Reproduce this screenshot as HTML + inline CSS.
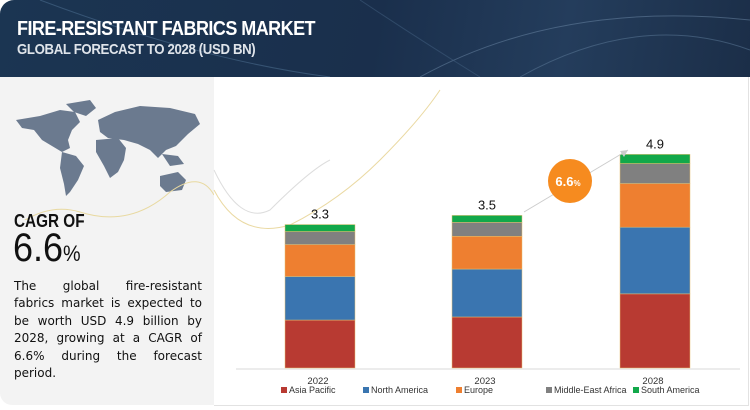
<!DOCTYPE html>
<html><head><meta charset="utf-8"><style>
body{margin:0;width:750px;height:410px;overflow:hidden;background:#fff;font-family:"Liberation Sans",sans-serif;position:relative}
#hdr{position:absolute;left:0;top:0;width:750px;height:77px;border-radius:14px 0 0 0;background:linear-gradient(100deg,#1b3552 0%,#1a2f4c 50%,#243d5c 75%,#1b2e48 100%);overflow:hidden}
#t1{position:absolute;left:17px;top:18px;color:#fff;font-weight:bold;font-size:20px;letter-spacing:-0.6px;transform:scaleX(0.9);transform-origin:left}
#t2{position:absolute;left:17px;top:41px;color:#dfe4ea;font-weight:bold;font-size:15px;letter-spacing:-0.4px;transform:scaleX(0.88);transform-origin:left}
#left{position:absolute;left:0;top:77px;width:214px;height:328px;background:#f3f3f3;border-radius:0 0 0 12px}
#cg{position:absolute;left:14px;top:211px;font-size:18px;font-weight:bold;color:#111;transform:scaleX(0.85);transform-origin:left}
#cv{position:absolute;left:13px;top:226px;font-size:40px;color:#111;transform:scaleX(0.9);transform-origin:left}
#cv span{font-size:22px}
#para{position:absolute;left:14px;top:278px;width:188px;font-family:"DejaVu Sans",sans-serif;font-size:12px;line-height:17.4px;color:#111}
#para div{text-align:justify;text-align-last:justify;white-space:nowrap}
#para div.last{text-align-last:left}
#chartbox{position:absolute;left:214px;top:77px;width:534px;height:328px;border-right:1px solid #e2e2e2;border-bottom:1px solid #e2e2e2}
</style></head><body>
<div id="hdr">
<svg width="750" height="77" style="position:absolute;left:0;top:0">
<path d="M40 0 Q200 60 330 77" stroke="#4a6a8c" stroke-width="1" fill="none" opacity=".6"/>
<path d="M420 77 Q560 0 750 20" stroke="#6d8aa8" stroke-width="1" fill="none" opacity=".5"/>
<path d="M520 77 Q640 10 750 50" stroke="#5f7d9c" stroke-width="1" fill="none" opacity=".5"/>
<path d="M360 0 Q420 40 480 77" stroke="#3d5a7a" stroke-width="1" fill="none" opacity=".6"/>
</svg>
<div id="t1">FIRE-RESISTANT FABRICS MARKET</div>
<div id="t2">GLOBAL FORECAST TO 2028 (USD BN)</div>
</div>
<div id="left"></div>
<svg width="214" height="120" style="position:absolute;left:0;top:100px">
<g fill="#6b7a8f">
<path d="M16 20 L40 16 L60 10 L75 12 L80 22 L72 30 L68 40 L70 48 L62 52 L52 46 L42 40 L34 30 L22 28 Z"/>
<path d="M66 4 L90 0 L96 8 L86 16 L74 12 Z"/>
<path d="M62 52 L76 56 L84 66 L78 80 L70 92 L66 96 L64 84 L60 68 Z"/>
<path d="M98 20 L115 12 L140 6 L170 8 L195 14 L200 24 L188 34 L176 46 L166 50 L158 58 L150 50 L138 44 L124 40 L108 38 L100 32 Z"/>
<path d="M96 40 L118 38 L126 48 L124 60 L118 72 L110 78 L104 66 L96 52 Z"/>
<path d="M160 76 L178 72 L186 80 L182 90 L166 92 L160 86 Z"/>
<path d="M162 54 L178 56 L184 64 L170 66 Z"/>
</g>
<path d="M0 140 Q40 100 80 112 Q130 128 170 92 Q200 70 214 95" stroke="#e8d9a0" fill="none" stroke-width="1"/>
</svg>
<div id="cg">CAGR OF</div>
<div id="cv">6.6<span>%</span></div>
<div id="para"><div>The global fire-resistant</div><div>fabrics market is expected to</div><div>be worth USD 4.9 billion by</div><div>2028, growing at a CAGR of</div><div>6.6% during the forecast</div><div class="last">period.</div></div>
<div id="chartbox"></div>
<svg id="chart" width="750" height="410" style="position:absolute;left:0;top:0">
<path d="M214 190 Q240 240 290 225 Q340 200 380 160 Q420 120 440 90" stroke="#ead9a2" fill="none" stroke-width="1"/>
<path d="M214 170 Q240 225 270 210 Q310 170 330 160" stroke="#ddd" fill="none" stroke-width="1"/>
<line x1="236" y1="369" x2="740" y2="369" stroke="#e6e6e6" stroke-width="1.5"/>
<g id="bars"></g>
</svg>
<script>
const categories=["2022","2023","2028"];
const totals=["3.3","3.5","4.9"];
const seriesNames=["Asia Pacific","North America","Europe","Middle-East Africa","South America"];
const asiaPacific=[1.1,1.17,1.7];
const northAmerica=[1.0,1.1,1.53];
const europe=[0.73,0.75,1.0];
const middleEastAfrica=[0.3,0.32,0.46];
const southAmerica=[0.16,0.16,0.21];
const colors=["#b83a32","#3a75b0","#ee7f30","#808080","#12a84a"];
const series=[asiaPacific,northAmerica,europe,middleEastAfrica,southAmerica];
const NS="http://www.w3.org/2000/svg";
const g=document.getElementById('bars');
const base=368, ppu=43.6;
function yS(v){return base-v*ppu;}
function xS(i){return [285,452,620][i];}
const bw=70;
function mk(t,a){const e=document.createElementNS(NS,t);for(const k in a)e.setAttribute(k,a[k]);g.appendChild(e);return e;}
categories.forEach((c,i)=>{
  let cum=0;
  series.forEach((s,j)=>{
    const r=mk('rect',{x:xS(i),y:yS(cum+s[i]),width:bw,height:s[i]*ppu,fill:colors[j],stroke:'#e8c070','stroke-width':0.5});
    
    
    cum+=s[i];
  });
  const t=mk('text',{x:xS(i)+bw/2,y:yS(cum)-6,'text-anchor':'middle','font-size':13,fill:'#111','font-family':'Liberation Sans'});
  t.textContent=totals[i];
  
  
  const xl=mk('text',{x:xS(i)+bw/2-2,y:384,'text-anchor':'middle','font-size':9.5,fill:'#333','font-family':'Liberation Sans'});
  xl.textContent=c;
  
  
});
const ar=mk('path',{d:'M524 212 L628 150',stroke:'#ccc','stroke-width':1,fill:'none'});


const ah=mk('path',{d:'M628 150 L620 151 L624 157 Z',fill:'#ccc'});


const cc=mk('circle',{cx:570,cy:181,r:22,fill:'#f68b1f'});


const ct=mk('text',{x:568,y:186,'text-anchor':'middle','font-size':13,'font-weight':'bold',fill:'#fff','font-family':'Liberation Sans'});
ct.innerHTML='6.6<tspan font-size="8">%</tspan>';


const lx=[281,363,456,546,633];
seriesNames.forEach((n,j)=>{
  const s=mk('rect',{x:lx[j],y:387,width:6,height:6,fill:colors[j]});
  
  
  const t=mk('text',{x:lx[j]+8,y:393,'font-size':9,fill:'#333','font-family':'Liberation Sans'});
  t.textContent=n;
  
  
});
</script>
</body></html>
